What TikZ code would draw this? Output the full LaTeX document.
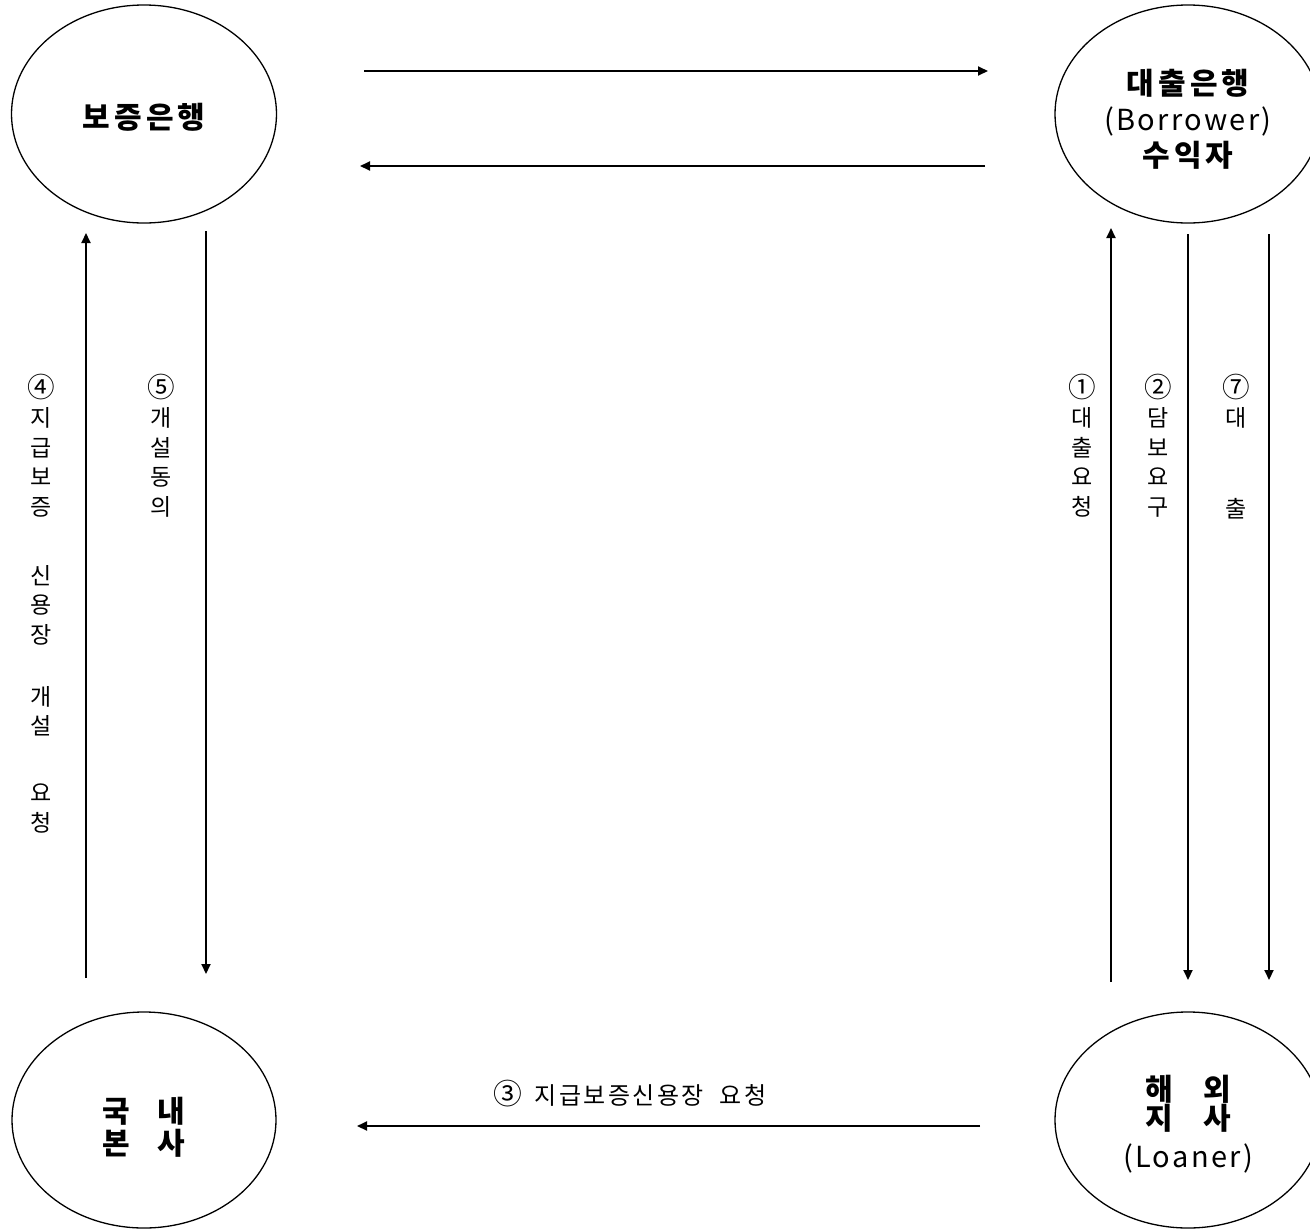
\documentclass[tikz,border=0pt]{standalone}
\usepackage{fontspec}
\usepackage{graphicx}
\setmainfont{Noto Sans CJK KR}
\newfontfamily\wideko[LetterSpace=14]{Noto Sans CJK KR}
\newfontfamily\widelat[LetterSpace=8]{Noto Sans CJK KR}
\newfontfamily\narrowko[LetterSpace=10]{Noto Sans CJK KR}
\newcommand\cnum[1]{\smash{\scalebox{1.2}{#1}}}
\usetikzlibrary{shapes.geometric,arrows.meta}
\tikzset{
  ell/.style={ellipse,draw,line width=1.3pt,inner sep=0pt},
  big/.style={inner sep=0pt,align=center,font=\wideko\bfseries\fontsize{30}{36}\selectfont},
  flow/.style={line width=2pt,-{Triangle[length=10pt,width=9pt]}},
  vlab/.style={anchor=north,align=center,inner sep=0pt,font=\fontsize{23}{29.5}\selectfont},
}
\begin{document}
\begin{tikzpicture}[x=1pt,y=-1pt]
\useasboundingbox (0,0) rectangle (1310,1229);
% ellipses
\node[ell,minimum width=265pt,minimum height=218pt] (gb) at (144,114) {};
\node[ell,minimum width=266pt,minimum height=218pt] (dc) at (1188,114) {};
\node[ell,minimum width=264pt,minimum height=216pt] (gn) at (144,1120) {};
\node[ell,minimum width=266pt,minimum height=216pt] (hw) at (1188,1120) {};
% ellipse texts
\node[big] (gbT) at (144,117) {보증은행};
\node[big] (dcT) at (1188,119) {대출은행\\{\widelat\mdseries\fontsize{29}{36}\selectfont (Borrower)}\\수익자};
\node[big] (gnT) at (144,1127) {국\hspace{27pt}내\\[-4pt]본\hspace{27pt}사};
\node[big] (hwT) at (1188,1124) {해\hspace{30pt}외\\[-7pt]지\hspace{30pt}사\\[2pt]{\widelat\mdseries\fontsize{29}{36}\selectfont (Loaner)}};
% arrow end points
\coordinate (t1s) at (364,71);  \coordinate (t1e) at (988,71);
\coordinate (t2s) at (985,166); \coordinate (t2e) at (360,166);
\coordinate (l1s) at (86,978);  \coordinate (l1e) at (86,233);
\coordinate (l2s) at (206,231); \coordinate (l2e) at (206,974);
\coordinate (r1s) at (1111,982); \coordinate (r1e) at (1111,228);
\coordinate (r2s) at (1188,234); \coordinate (r2e) at (1188,980);
\coordinate (r3s) at (1269,234); \coordinate (r3e) at (1269,980);
\coordinate (b1s) at (980,1126); \coordinate (b1e) at (357,1126);
\draw[flow] (t1s) -- (t1e);
\draw[flow] (t2s) -- (t2e);
\draw[flow] (l1s) -- (l1e);
\draw[flow] (l2s) -- (l2e);
\draw[flow] (r1s) -- (r1e);
\draw[flow] (r2s) -- (r2e);
\draw[flow] (r3s) -- (r3e);
\draw[flow] (b1s) -- (b1e);
% labels
\node[vlab] (lab4) at (41,397) {\cnum{④}\\지\\급\\보\\증\\[39.5pt]신\\용\\장\\[32.5pt]개\\설\\[37.5pt]요\\청};
\node[vlab] (lab5) at (161,397) {\cnum{⑤}\\개\\설\\동\\의};
\node[vlab] (lab1) at (1082,397) {\cnum{①}\\대\\출\\요\\청};
\node[vlab] (lab2) at (1158,397) {\cnum{②}\\담\\보\\요\\구};
\node[vlab] (lab7) at (1236,397) {\cnum{⑦}\\대\\[61pt]출};
\node[font=\narrowko\fontsize{24}{30}\selectfont,inner sep=0pt] (lab3) at (630,1094) {\scalebox{1.2}{③}\hspace{12pt}지급보증신용장\hspace{16pt}요청};
\end{tikzpicture}
\end{document}
